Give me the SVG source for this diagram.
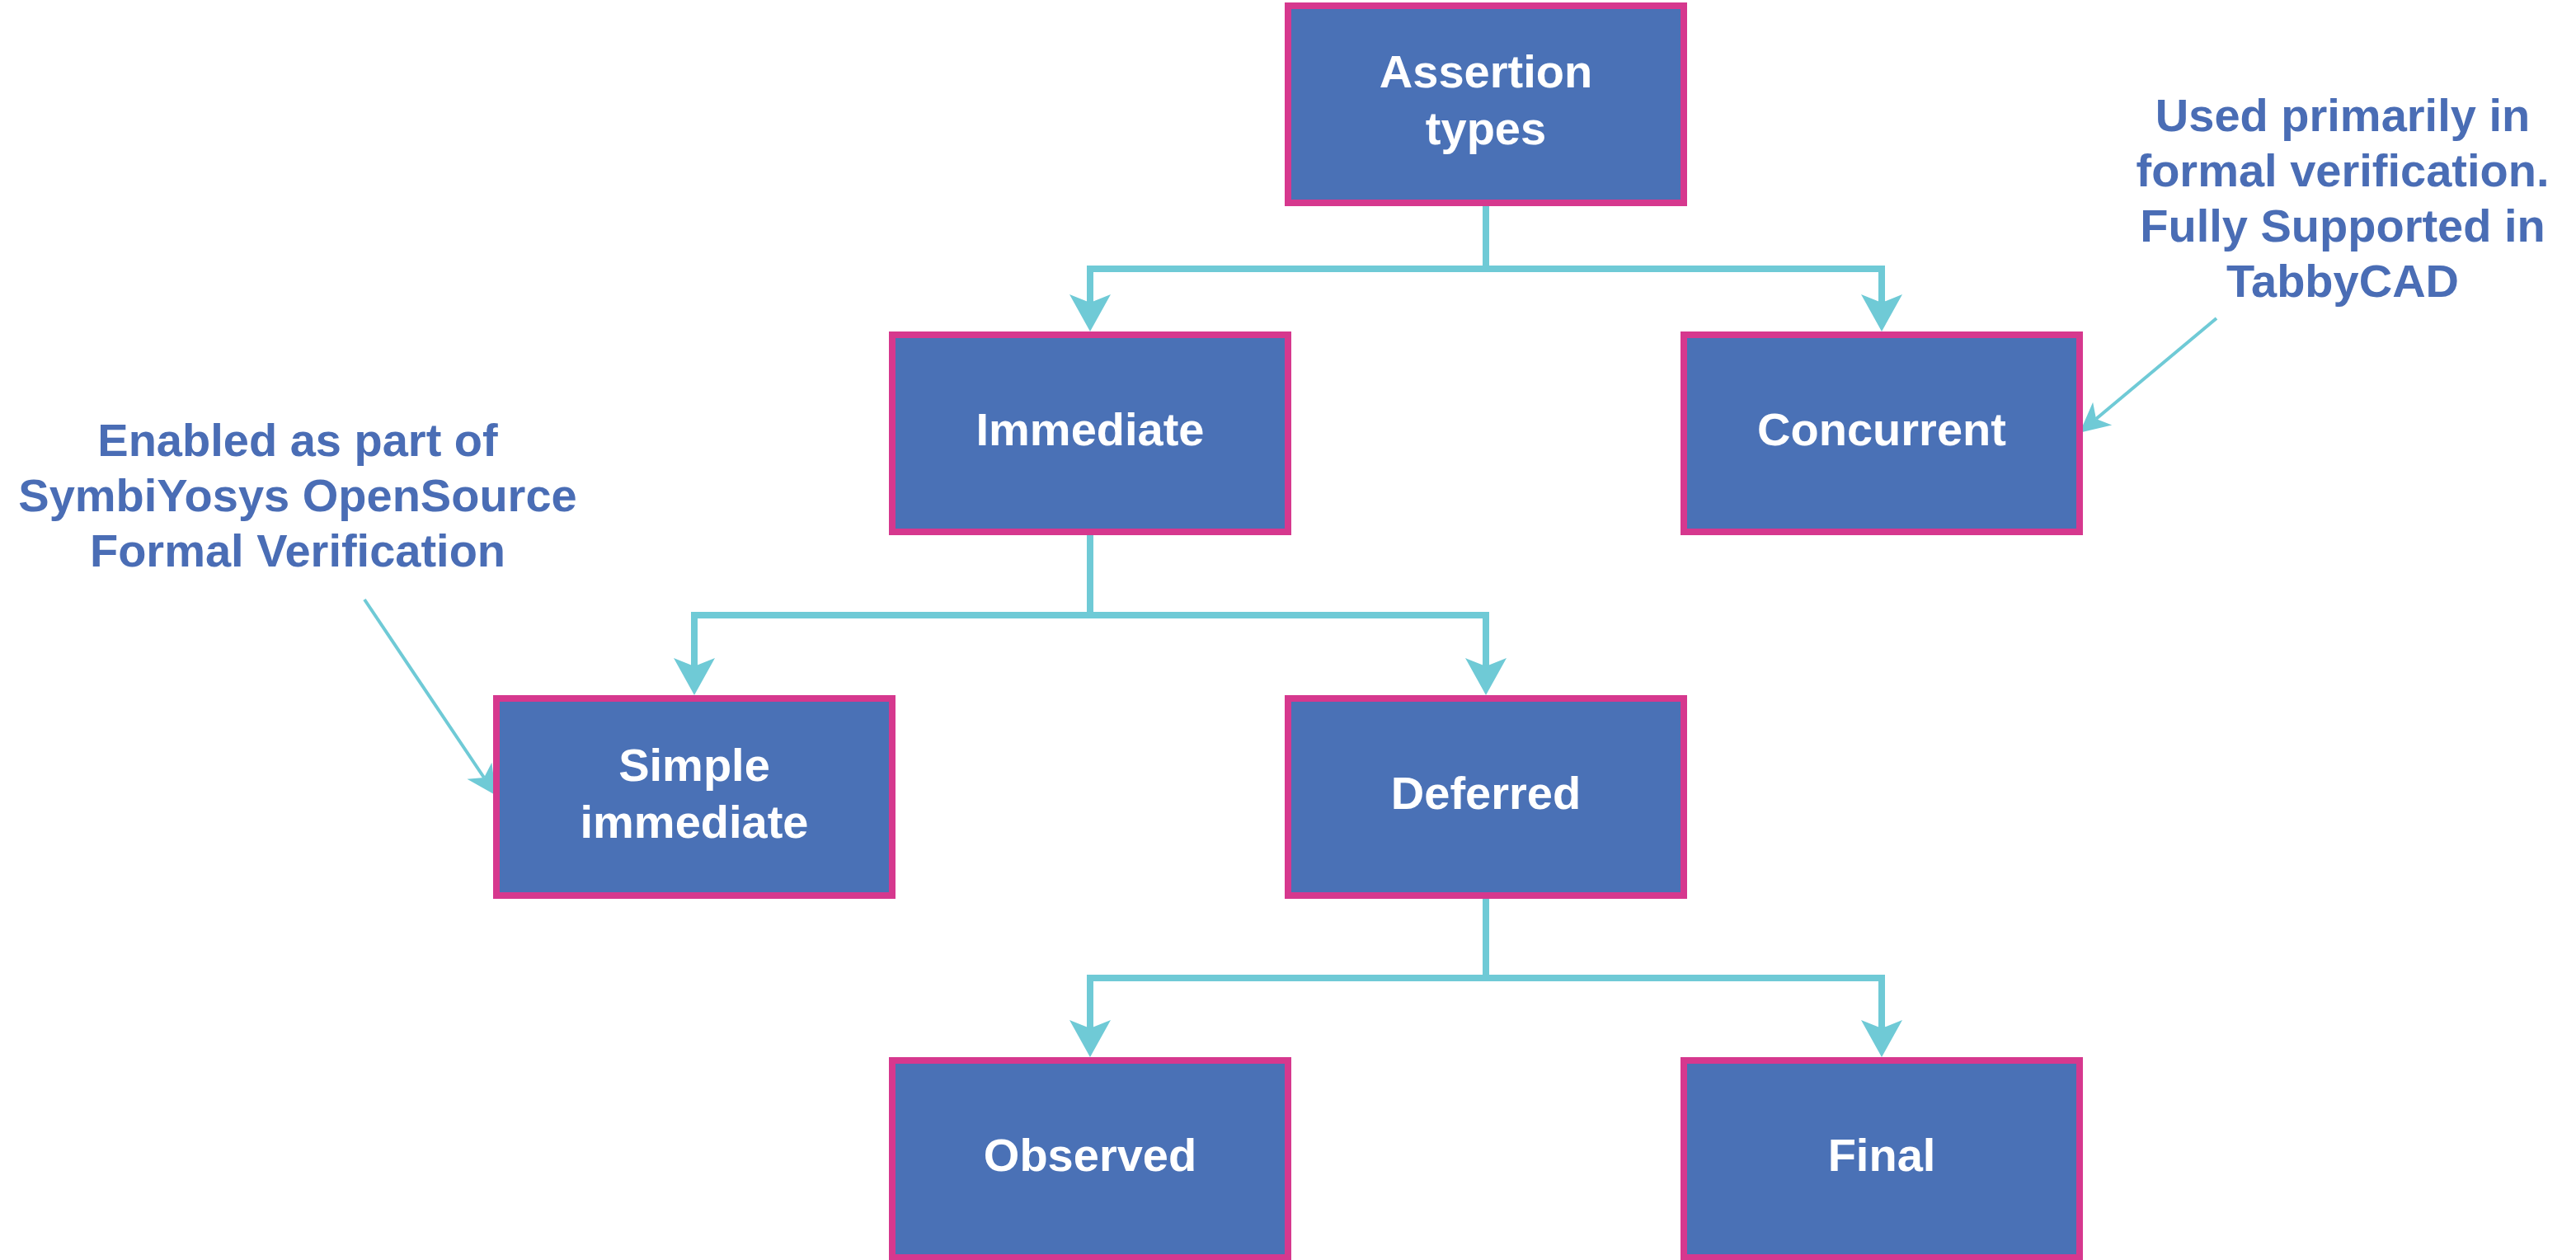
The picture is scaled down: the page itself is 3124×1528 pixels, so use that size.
<svg xmlns="http://www.w3.org/2000/svg" width="3124" height="1528" viewBox="0 0 3124 1528">
  <style>
    .box { fill: #4A71B6; stroke: #D6388E; stroke-width: 8; }
    .lbl { fill: #FFFFFF; font-family: "Liberation Sans", Arial, sans-serif; font-weight: bold; font-size: 56px; text-anchor: middle; }
    .note { fill: #4A6DB5; font-family: "Liberation Sans", Arial, sans-serif; font-weight: bold; font-size: 56px; text-anchor: middle; }
    .conn { fill: none; stroke: #6FCAD6; stroke-width: 8; stroke-linejoin: miter; }
    .ann { fill: none; stroke: #6FCAD6; stroke-width: 4; }
  </style>
  <defs>
    <marker id="arrow" markerUnits="userSpaceOnUse" viewBox="-12 -27 50 54" refX="0" refY="0" markerWidth="50" markerHeight="54" orient="auto">
      <path d="M35,0 L-10,-25 L0,0 L-10,25 Z" fill="#6FCAD6"/>
    </marker>
    <marker id="arrowSmall" markerUnits="userSpaceOnUse" viewBox="-12 -20 40 40" refX="0" refY="0" markerWidth="40" markerHeight="40" orient="auto">
      <path d="M26,0 L-10,-18 L0,0 L-10,18 Z" fill="#6FCAD6"/>
    </marker>
  </defs>
  <rect width="3124" height="1528" fill="#FFFFFF"/>

  <g id="connectors">
    <path class="conn" d="M1802,250 V326 H1322 V367" marker-end="url(#arrow)"/>
    <path class="conn" d="M1802,326 H2282 V367" marker-end="url(#arrow)"/>
    <path class="conn" d="M1322,649 V746 H842 V808" marker-end="url(#arrow)"/>
    <path class="conn" d="M1322,746 H1802 V808" marker-end="url(#arrow)"/>
    <path class="conn" d="M1802,1090 V1186 H1322 V1247" marker-end="url(#arrow)"/>
    <path class="conn" d="M1802,1186 H2282 V1247" marker-end="url(#arrow)"/>
    <path class="ann" d="M442,727 L587,943" marker-end="url(#arrowSmall)"/>
    <path class="ann" d="M2688,386 L2542,508" marker-end="url(#arrowSmall)"/>
  </g>

  <g id="node-assertion-types">
    <rect class="box" x="1562" y="7" width="480" height="239"/>
    <text class="lbl" x="1802" y="106">Assertion</text>
    <text class="lbl" x="1802" y="175">types</text>
  </g>
  <g id="node-immediate">
    <rect class="box" x="1082" y="406" width="480" height="239"/>
    <text class="lbl" x="1322" y="540">Immediate</text>
  </g>
  <g id="node-concurrent">
    <rect class="box" x="2042" y="406" width="480" height="239"/>
    <text class="lbl" x="2282" y="540">Concurrent</text>
  </g>
  <g id="node-simple-immediate">
    <rect class="box" x="602" y="847" width="480" height="239"/>
    <text class="lbl" x="842" y="947">Simple</text>
    <text class="lbl" x="842" y="1016">immediate</text>
  </g>
  <g id="node-deferred">
    <rect class="box" x="1562" y="847" width="480" height="239"/>
    <text class="lbl" x="1802" y="981">Deferred</text>
  </g>
  <g id="node-observed">
    <rect class="box" x="1082" y="1286" width="480" height="239"/>
    <text class="lbl" x="1322" y="1420">Observed</text>
  </g>
  <g id="node-final">
    <rect class="box" x="2042" y="1286" width="480" height="239"/>
    <text class="lbl" x="2282" y="1420">Final</text>
  </g>

  <g id="note-symbiyosys">
    <text class="note" x="361" y="553">Enabled as part of</text>
    <text class="note" x="361" y="620">SymbiYosys OpenSource</text>
    <text class="note" x="361" y="687">Formal Verification</text>
  </g>
  <g id="note-tabbycad">
    <text class="note" x="2841" y="159">Used primarily in</text>
    <text class="note" x="2841" y="226">formal verification.</text>
    <text class="note" x="2841" y="293">Fully Supported in</text>
    <text class="note" x="2841" y="360">TabbyCAD</text>
  </g>
</svg>
